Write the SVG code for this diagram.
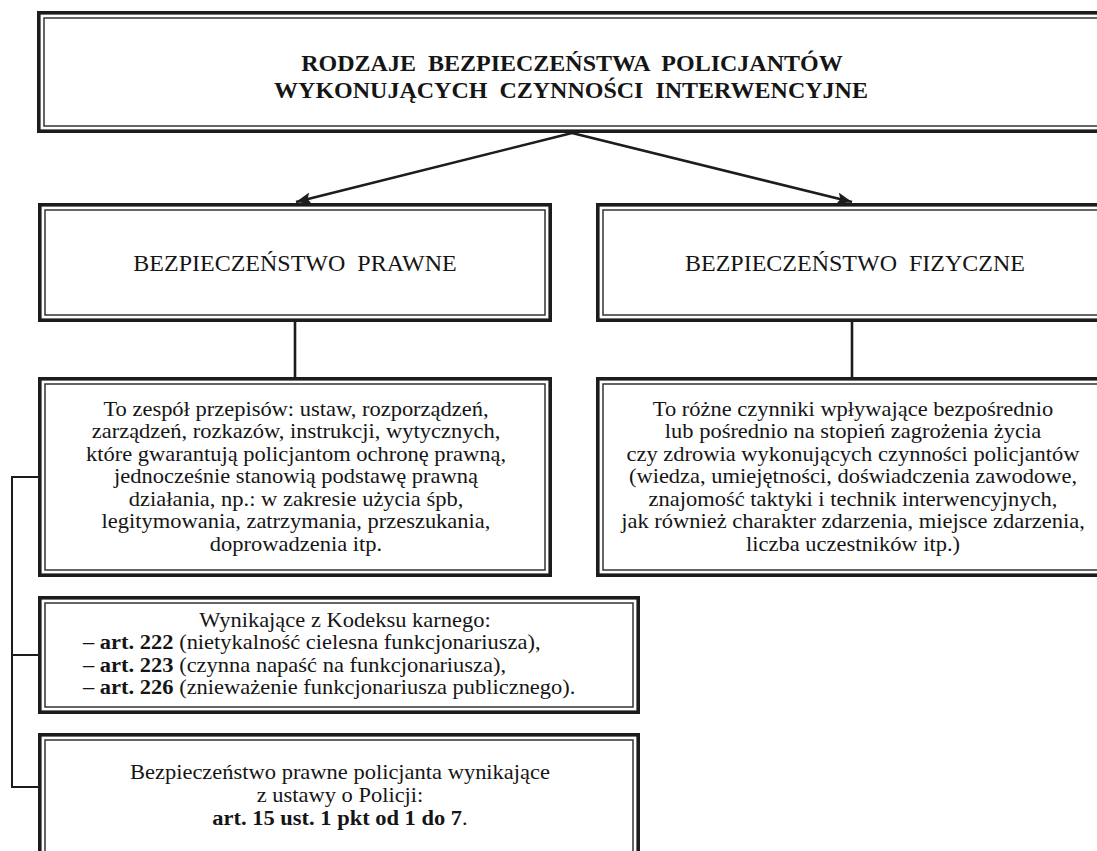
<svg xmlns="http://www.w3.org/2000/svg" width="1097" height="851" viewBox="0 0 1097 851">
<style>
.o{fill:#fff;stroke:#1c1c1c;stroke-width:3.6}
.i{fill:none;stroke:#333;stroke-width:1.5}
text{font-family:"Liberation Serif","Times New Roman",serif;fill:#151515;white-space:pre}
.t{font-size:24px;font-weight:bold;text-anchor:middle}
.h{font-size:24px;text-anchor:middle}
.b{font-size:20px;text-anchor:middle}
.l{font-size:20px}
.k{font-weight:bold}
.c{fill:none;stroke:#1c1c1c;stroke-width:2.6}
.br{fill:none;stroke:#1c1c1c;stroke-width:2}
</style>
<defs>
<marker id="ah" markerUnits="userSpaceOnUse" markerWidth="16" markerHeight="12" refX="15" refY="6" orient="auto">
<path d="M0,0 L15,6 L0,12 L3,6 z" fill="#1c1c1c"/>
</marker>
</defs>
<rect width="1097" height="851" fill="#fff"/>
<g id="connectors">
<line class="c" x1="572" y1="133" x2="296" y2="202" marker-end="url(#ah)"/>
<line class="c" x1="572" y1="133" x2="852" y2="202" marker-end="url(#ah)"/>
<line class="c" x1="295" y1="322" x2="295" y2="378"/>
<line class="c" x1="852" y1="322" x2="852" y2="378"/>
<polyline class="br" points="39,477 12,477 12,787 39,787"/>
<line class="br" x1="12" y1="655" x2="39" y2="655"/>
</g>
<g id="n-top">
<rect class="o" x="38.8" y="12.8" width="1070" height="118.4"/>
<rect class="i" x="44" y="18" width="1060" height="108"/>
<text class="t" x="572" y="71">RODZAJE  BEZPIECZEŃSTWA  POLICJANTÓW</text>
<text class="t" x="571" y="98">WYKONUJĄCYCH  CZYNNOŚCI  INTERWENCYJNE</text>
</g>
<g id="n-prawne">
<rect class="o" x="39.8" y="204.8" width="510.4" height="115.4"/>
<rect class="i" x="45" y="210" width="500" height="105"/>
<text class="h" x="295" y="271">BEZPIECZEŃSTWO  PRAWNE</text>
</g>
<g id="n-fizyczne">
<rect class="o" x="597.8" y="204.8" width="512" height="115.4"/>
<rect class="i" x="603" y="210" width="502" height="105"/>
<text class="h" x="855" y="271">BEZPIECZEŃSTWO  FIZYCZNE</text>
</g>
<g id="n-prawne-opis">
<rect class="o" x="39.8" y="378.8" width="510.4" height="196.4"/>
<rect class="i" x="45" y="384" width="500" height="186"/>
<g transform="translate(296,0) scale(1.125,1)">
<text class="b" x="0" y="416">To zespół przepisów: ustaw, rozporządzeń,</text>
<text class="b" x="0" y="438.5">zarządzeń, rozkazów, instrukcji, wytycznych,</text>
<text class="b" x="0" y="461">które gwarantują policjantom ochronę prawną,</text>
<text class="b" x="0" y="483.5">jednocześnie stanowią podstawę prawną</text>
<text class="b" x="0" y="506">działania, np.: w zakresie użycia śpb,</text>
<text class="b" x="0" y="528.5">legitymowania, zatrzymania, przeszukania,</text>
<text class="b" x="0" y="551">doprowadzenia itp.</text>
</g>
</g>
<g id="n-fizyczne-opis">
<rect class="o" x="597.8" y="378.8" width="512" height="196.4"/>
<rect class="i" x="603" y="384" width="502" height="186"/>
<g transform="translate(853,0) scale(1.125,1)">
<text class="b" x="0" y="416">To różne czynniki wpływające bezpośrednio</text>
<text class="b" x="0" y="438.5">lub pośrednio na stopień zagrożenia życia</text>
<text class="b" x="0" y="461">czy zdrowia wykonujących czynności policjantów</text>
<text class="b" x="0" y="483.5">(wiedza, umiejętności, doświadczenia zawodowe,</text>
<text class="b" x="0" y="506">znajomość taktyki i technik interwencyjnych,</text>
<text class="b" x="0" y="528.5">jak również charakter zdarzenia, miejsce zdarzenia,</text>
<text class="b" x="0" y="551">liczba uczestników itp.)</text>
</g>
</g>
<g id="n-kodeks">
<rect class="o" x="39.8" y="597.8" width="598.4" height="114.4"/>
<rect class="i" x="45" y="603" width="588" height="104"/>
<g transform="translate(345,0) scale(1.125,1)">
<text class="b" x="0" y="627">Wynikające z Kodeksu karnego:</text>
</g>
<g transform="translate(83,0) scale(1.125,1)">
<text class="l" x="0" y="649.5">– <tspan class="k">art. 222</tspan> (nietykalność cielesna funkcjonariusza),</text>
<text class="l" x="0" y="672">– <tspan class="k">art. 223</tspan> (czynna napaść na funkcjonariusza),</text>
<text class="l" x="0" y="694.5">– <tspan class="k">art. 226</tspan> (znieważenie funkcjonariusza publicznego).</text>
</g>
</g>
<g id="n-ustawa">
<rect class="o" x="39.8" y="734.8" width="598.4" height="140"/>
<rect class="i" x="45" y="740" width="588" height="130"/>
<g transform="translate(340,0) scale(1.125,1)">
<text class="b" x="0" y="779">Bezpieczeństwo prawne policjanta wynikające</text>
<text class="b" x="0" y="802">z ustawy o Policji:</text>
<text class="b" x="0" y="825"><tspan class="k">art. 15 ust. 1 pkt od 1 do 7</tspan>.</text>
</g>
</g>
</svg>
